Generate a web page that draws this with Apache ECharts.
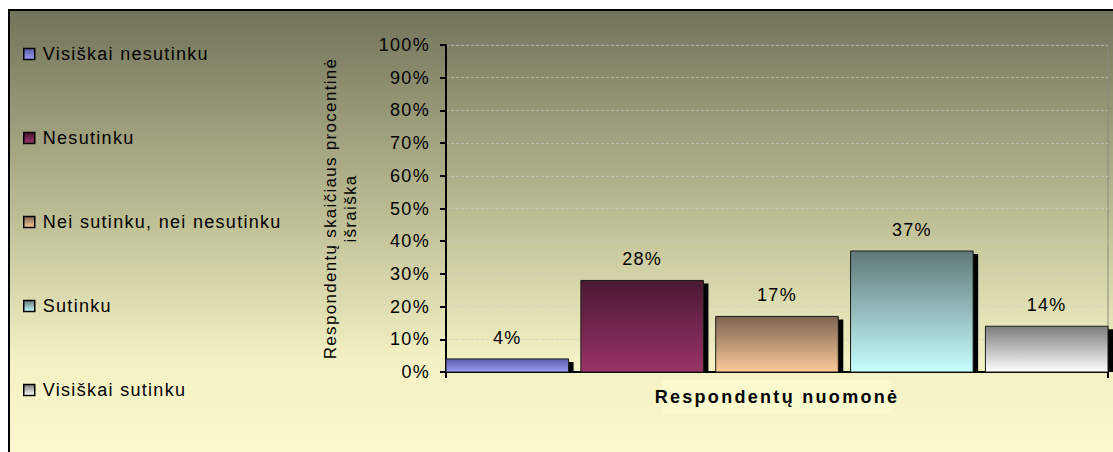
<!DOCTYPE html>
<html>
<head>
<meta charset="utf-8">
<script src="https://cdn.jsdelivr.net/npm/echarts@6/dist/echarts.min.js"></script>
<style>
html,body{margin:0;padding:0;background:#fff;}
#chart{width:1113px;height:452px;}
#chart svg text{letter-spacing:1.3px;}
#chart svg text[style*="bold"]{letter-spacing:2.3px;}
</style>
</head>
<body>
<div id="chart"></div>
<script>
const categories = ['Respondentų nuomonė'];
const seriesNames = ['Visiškai nesutinku', 'Nesutinku', 'Nei sutinku, nei nesutinku', 'Sutinku', 'Visiškai sutinku'];
const seriesValues = [4, 28, 17, 37, 14];
const yTicks = [0, 10, 20, 30, 40, 50, 60, 70, 80, 90, 100];
const yAxisTitle = 'Respondentų skaičiaus procentinė\nišraiška';

const gradients = [
  ['#5a5aa8', '#9c9cf4'],
  ['#4a1832', '#9a3468'],
  ['#7c6450', '#fcca98'],
  ['#5f7878', '#c8ffff'],
  ['#7c7c7c', '#ffffff']
];

function grad(c) {
  return new echarts.graphic.LinearGradient(0, 0, 0, 1, [
    { offset: 0, color: c[0] },
    { offset: 1, color: c[1] }
  ]);
}

const font = 'Liberation Sans';
const nSeries = seriesNames.length;
const gapRatio = 0.1;

const chart = echarts.init(document.getElementById('chart'), null, { renderer: 'svg' });

const series = seriesNames.map((name, i) => ({
  name: name,
  type: 'custom',
  data: [[0, seriesValues[i]]],
  encode: { x: 0, y: 1 },
  itemStyle: { color: grad(gradients[i]), borderColor: '#000', borderWidth: 1 },
  renderItem: function (params, api) {
    const cat = api.value(0);
    const val = api.value(1);
    const band = api.size([1, 0])[0];
    const center = api.coord([cat, 0]);
    const topPt = api.coord([cat, val]);
    const w = band / (nSeries + (nSeries - 1) * gapRatio);
    const x = center[0] - band / 2 + i * w * (1 + gapRatio);
    const y0 = center[1];
    const y1 = topPt[1];
    const h = y0 - y1;
    return {
      type: 'group',
      children: [
        {
          type: 'rect',
          shape: { x: x + 5, y: y1 + 3, width: w, height: h - 3 },
          style: { fill: '#000' }
        },
        {
          type: 'rect',
          shape: { x: x, y: y1, width: w, height: h },
          style: { fill: grad(gradients[i]), stroke: '#1a1a1a', lineWidth: 1 }
        },
        {
          type: 'text',
          style: {
            text: val + '%',
            x: x + w / 2,
            y: y1 - 12,
            align: 'center',
            verticalAlign: 'bottom',
            fill: '#000',
            fontSize: 18,
            fontFamily: font
          }
        }
      ]
    };
  }
}));

chart.setOption({
  animation: false,
  textStyle: { fontFamily: font },
  graphic: [{
    type: 'rect',
    z: -100,
    silent: true,
    shape: { x: 9, y: 10, width: 1120, height: 450 },
    style: {
      fill: new echarts.graphic.LinearGradient(0, 0, 0, 1, [
        { offset: 0, color: '#71735a' },
        { offset: 0.45, color: '#bcbc93' },
        { offset: 0.78, color: '#f4f2c4' },
        { offset: 1, color: '#fbf9cd' }
      ]),
      stroke: '#000',
      lineWidth: 2
    }
  }],
  legend: {
    orient: 'vertical',
    left: 18,
    top: 40,
    itemWidth: 11,
    itemHeight: 11,
    itemGap: 66,
    icon: 'rect',
    textStyle: { color: '#000', fontSize: 18, fontFamily: font, padding: [0, 0, 0, 3] },
    itemStyle: { borderColor: '#000', borderWidth: 1.5 },
    data: seriesNames
  },
  grid: {
    left: 446,
    right: 5,
    top: 45,
    bottom: 80,
    show: true,
    borderColor: '#8a8a80',
    borderWidth: 1,
    backgroundColor: 'transparent'
  },
  xAxis: {
    type: 'category',
    data: categories,
    axisLine: { lineStyle: { color: '#000', width: 2 } },
    axisTick: { show: true, length: 6, lineStyle: { color: '#000', width: 2 } },
    axisLabel: {
      color: '#000',
      fontSize: 18,
      fontWeight: 'bold',
      fontFamily: font,
      margin: 8,
      backgroundColor: '#fbfacf',
      padding: [8, 14, 8, 14]
    }
  },
  yAxis: {
    type: 'value',
    min: yTicks[0],
    max: yTicks[yTicks.length - 1],
    interval: 10,
    name: yAxisTitle,
    nameLocation: 'middle',
    nameGap: 86,
    nameTextStyle: { color: '#000', fontSize: 17, fontFamily: font, lineHeight: 20 },
    axisLine: { show: true, lineStyle: { color: '#000', width: 2 } },
    axisTick: { show: true, length: 6, lineStyle: { color: '#000', width: 2 } },
    axisLabel: {
      color: '#000',
      fontSize: 18,
      fontFamily: font,
      margin: 16,
      formatter: '{value}%'
    },
    splitLine: { show: true, lineStyle: { color: 'rgba(205,205,200,0.6)', type: [3, 2], width: 1 } }
  },
  series: series
});
</script>
</body>
</html>
